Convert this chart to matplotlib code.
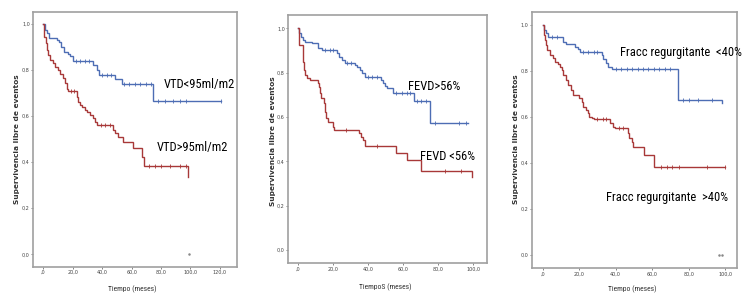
import numpy as np
import matplotlib
matplotlib.use("Agg")
import matplotlib.pyplot as plt
from matplotlib import font_manager

# ---------------- data ----------------
# Panel 1: VTD
p1_blue_t = [0, 1.1, 2.3, 4.1, 9.1, 10.9, 12, 14, 17, 18, 20.4, 34, 36.2, 38, 48.7, 53.2, 74.3]
p1_blue_s = [1.0, 0.974, 0.96, 0.94, 0.93, 0.92, 0.90, 0.88, 0.87, 0.86, 0.84, 0.82, 0.80, 0.78, 0.76, 0.74, 0.665]
p1_blue_end = 121
p1_blue_cens = [22, 25, 28, 31, 40, 43, 46, 55, 58, 62, 66, 70, 73, 78, 83, 88, 93, 97, 121]

p1_red_t = [0, 0.7, 1.6, 2.3, 3.4, 4.5, 6.8, 7.9, 10.2, 11.3, 13.6, 14.7, 15.8, 17, 22.6, 23.8, 24.9, 26,
            28.3, 29.4, 31.7, 34, 35.1, 36.7, 47.1, 48.7, 50.9, 54.3, 61.1, 66.8, 68.4, 98.5]
p1_red_s = [1.0, 0.945, 0.916, 0.887, 0.865, 0.843, 0.83, 0.815, 0.80, 0.785, 0.764, 0.742, 0.72, 0.71,
            0.685, 0.663, 0.648, 0.638, 0.627, 0.618, 0.605, 0.59, 0.576, 0.56, 0.54, 0.525, 0.51, 0.489,
            0.46, 0.424, 0.385, 0.337]
p1_red_end = 98.5
p1_red_cens = [19, 21, 39, 42, 45, 72, 76, 80, 86, 93, 97]

# Panel 2: FEVD
p2_blue_t = [0, 0.6, 1.3, 2.5, 3.8, 7.6, 11.4, 13.3, 22.3, 23.4, 24.8, 26.7, 32.4, 33.3, 35.2, 36.2, 38.1,
             47.2, 48.2, 49.5, 50.9, 53.9, 66.3, 75.2]
p2_blue_s = [1.0, 0.977, 0.962, 0.947, 0.94, 0.932, 0.91, 0.90, 0.887, 0.872, 0.857, 0.842, 0.835, 0.827,
             0.812, 0.80, 0.78, 0.767, 0.752, 0.74, 0.729, 0.71, 0.67, 0.571]
p2_blue_end = 97
p2_blue_cens = [15, 18, 20, 28, 30, 40, 42, 45, 56, 59, 62, 64, 68, 70, 73, 78, 92, 96]

p2_red_t = [0, 0.6, 2.5, 2.9, 3.4, 3.8, 4.8, 6.7, 11, 11.8, 12.4, 13, 14.7, 15.2, 15.8, 17.1, 19.6, 20.4,
            34.9, 35.6, 36.8, 38.1, 55.6, 62.3, 69.9, 99]
p2_red_s = [1.0, 0.925, 0.887, 0.85, 0.812, 0.79, 0.774, 0.767, 0.752, 0.737, 0.707, 0.684, 0.662, 0.624,
            0.594, 0.579, 0.556, 0.541, 0.526, 0.511, 0.496, 0.47, 0.436, 0.406, 0.358, 0.331]
p2_red_end = 99
p2_red_cens = [27, 45, 84, 93]

# Panel 3: Fraccion regurgitante
p3_blue_t = [0, 0.7, 1.8, 3.1, 11.3, 12.8, 17.7, 19.6, 20.5, 32.4, 33.3, 34.7, 36, 37.8, 74.4, 98.2]
p3_blue_s = [1.0, 0.978, 0.964, 0.946, 0.928, 0.917, 0.906, 0.894, 0.884, 0.87, 0.851, 0.833, 0.819,
             0.807, 0.674, 0.66]
p3_blue_end = 98.2
p3_blue_cens = [5, 8, 22, 25, 28, 30, 40, 43, 46, 49, 52, 55, 58, 61, 64, 67, 70, 77, 80, 85, 93]

p3_red_t = [0, 0.7, 1.3, 1.8, 2.6, 4.0, 5.5, 6.8, 8.6, 9.5, 10.4, 11.3, 12.6, 14.1, 15.4, 16.5, 20.1,
            21.4, 22.3, 23.8, 24.7, 25.6, 26.9, 28.2, 36.9, 38.4, 39.7, 46.6, 47.5, 48.8, 49.7, 55.6, 61.1]
p3_red_s = [1.0, 0.957, 0.935, 0.913, 0.891, 0.87, 0.855, 0.841, 0.83, 0.819, 0.804, 0.783, 0.761,
            0.739, 0.717, 0.696, 0.681, 0.667, 0.645, 0.63, 0.616, 0.601, 0.594, 0.59, 0.572, 0.558,
            0.551, 0.529, 0.507, 0.493, 0.471, 0.435, 0.384]
p3_red_end = 100
p3_red_cens = [30, 33, 35, 42, 44, 65, 68, 71, 75, 90, 100]

y_ticks = [0.0, 0.2, 0.4, 0.6, 0.8, 1.0]
y_ticklabels = ["0,0", "0,2", "0,4", "0,6", "0,8", "1,0"]
x_ticks_1 = [0, 20, 40, 60, 80, 100, 120]
x_ticklabels_1 = [",0", "20,0", "40,0", "60,0", "80,0", "100,0", "120,0"]
x_ticks_23 = [0, 20, 40, 60, 80, 100]
x_ticklabels_23 = [",0", "20,0", "40,0", "60,0", "80,0", "100,0"]

ylabel = "Supervivencia libre de eventos"
xlabels = ["Tiempo (meses)", "TiempoS (meses)", "Tiempo (meses)"]
labels_blue = ["VTD<95ml/m2", "FEVD>56%", "Fracc regurgitante  <40%"]
labels_red = ["VTD>95ml/m2", "FEVD <56%", "Fracc regurgitante  >40%"]

# ---------------- style ----------------
names = {f.name for f in font_manager.fontManager.ttflist}
narrow = next((n for n in ["Liberation Sans Narrow", "Roboto Condensed", "Open Sans Condensed",
                           "Arial Narrow", "Noto Sans Display"] if n in names), "DejaVu Sans")

BLUE = "#4d6db4"
RED = "#a83838"
FRAME = "#a0a0a0"

fig = plt.figure(figsize=(7.5, 3.01), dpi=100)

W, H = 750.0, 301.0
def rect(l, r, t, b):
    return [l / W, (H - b) / H, (r - l) / W, (b - t) / H]

panels = [
    dict(rect=rect(33.3, 237.3, 12.3, 266.7), xlim=(-6.8, 131.8), ylim=(-0.054, 1.051),
         xt=x_ticks_1, xtl=x_ticklabels_1,
         blue=(p1_blue_t, p1_blue_s, p1_blue_end, p1_blue_cens),
         red=(p1_red_t, p1_red_s, p1_red_end, p1_red_cens),
         lab_blue=(164, 84), lab_red=(157, 148), ylab=(17, 139), xlab=(132, 289),
         dots=[99]),
    dict(rect=rect(288.3, 487.0, 15.0, 263.3), xlim=(-5.7, 107.8), ylim=(-0.06, 1.06),
         xt=x_ticks_23, xtl=x_ticklabels_23,
         blue=(p2_blue_t, p2_blue_s, p2_blue_end, p2_blue_cens),
         red=(p2_red_t, p2_red_s, p2_red_end, p2_red_cens),
         lab_blue=(408, 87), lab_red=(420, 157), ylab=(273, 141), xlab=(385, 287),
         dots=[]),
    dict(rect=rect(531.7, 737.3, 12.3, 268.3), xlim=(-6.0, 106.7), ylim=(-0.058, 1.055),
         xt=x_ticks_23, xtl=x_ticklabels_23,
         blue=(p3_blue_t, p3_blue_s, p3_blue_end, p3_blue_cens),
         red=(p3_red_t, p3_red_s, p3_red_end, p3_red_cens),
         lab_blue=(620, 53), lab_red=(606, 197), ylab=(516, 139), xlab=(632, 289),
         dots=[96.5, 98.5]),
]


def step_value(t, s, x):
    idx = np.searchsorted(np.asarray(t), x, side="right") - 1
    return np.asarray(s)[idx]


def draw_curve(ax, data, color):
    t, s, end, cens = data
    tt = list(t) + [end]
    ss = list(s) + [s[-1]]
    ax.step(tt, ss, where="post", color=color, lw=1.0, solid_joinstyle="miter")
    cx = np.asarray(cens, dtype=float)
    cy = np.array([step_value(t, s, c) for c in cx])
    ax.plot(cx, cy, ls="none", marker="|", ms=2.5, mew=0.6, color=color)


for i, p in enumerate(panels):
    ax = fig.add_axes(p["rect"])
    ax.set_xlim(*p["xlim"])
    ax.set_ylim(*p["ylim"])
    for sp in ax.spines.values():
        sp.set_color(FRAME)
        sp.set_linewidth(1.2)
    ax.set_yticks(y_ticks)
    ax.set_yticklabels(y_ticklabels)
    ax.set_xticks(p["xt"])
    ax.set_xticklabels(p["xtl"])
    ax.tick_params(axis="both", direction="out", length=1.5, width=0.5, color="#555555",
                   labelsize=3.5, labelcolor="#444444", pad=1)
    draw_curve(ax, p["blue"], BLUE)
    draw_curve(ax, p["red"], RED)
    for d in p["dots"]:
        ax.plot([d], [0.0], ls="none", marker="o", ms=0.8, color="#888888")

    fig.text(p["lab_blue"][0] / W, 1 - p["lab_blue"][1] / H, labels_blue[i], family=[narrow, "DejaVu Sans"],
             fontsize=9, color="black", ha="left", va="center")
    fig.text(p["lab_red"][0] / W, 1 - p["lab_red"][1] / H, labels_red[i], family=[narrow, "DejaVu Sans"],
             fontsize=9, color="black", ha="left", va="center")
    fig.text(p["ylab"][0] / W, 1 - p["ylab"][1] / H, ylabel, rotation=90, fontsize=5.3,
             fontweight="bold", color="#333333", ha="center", va="center")
    fig.text(p["xlab"][0] / W, 1 - p["xlab"][1] / H, xlabels[i], family=[narrow, "DejaVu Sans"],
             fontsize=5.5, color="#333333", ha="center", va="center")

fig.savefig("out.png", dpi=100, facecolor="white")
